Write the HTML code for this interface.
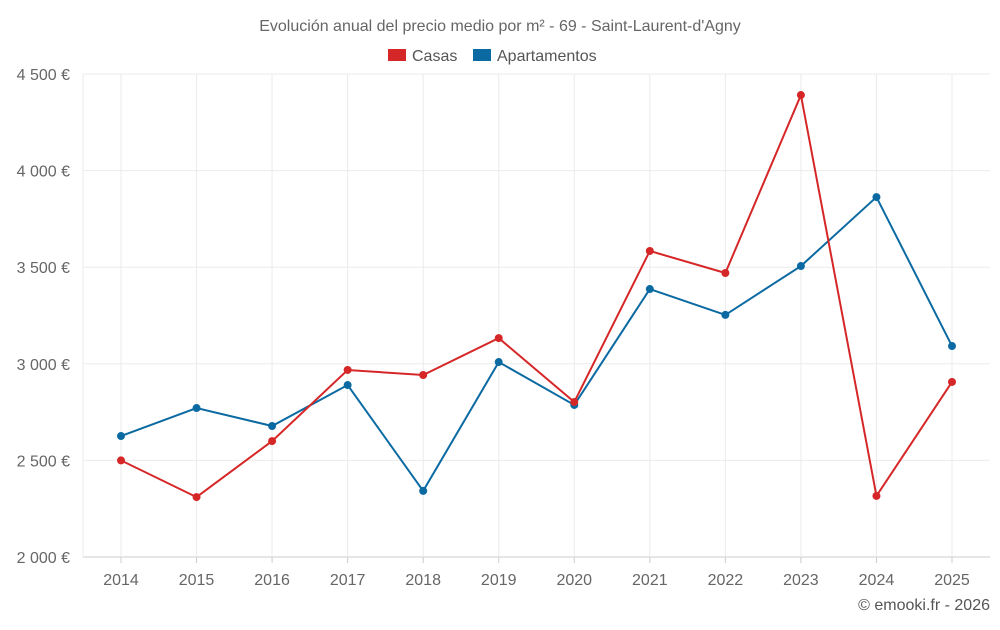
<!DOCTYPE html>
<html><head><meta charset="utf-8"><style>
body{margin:0;background:#fff;font-family:"Liberation Sans",sans-serif;}
svg text{font-family:"Liberation Sans",sans-serif;}
</style></head><body>
<svg id="chart" width="1000" height="625">
<text x="500" y="31" text-anchor="middle" font-size="16" fill="#666">Evolución anual del precio medio por m² - 69 - Saint-Laurent-d'Agny</text>
<g>
<g><rect x="388" y="49" width="18" height="12" fill="#d62728"/><text x="412" y="61" font-size="16" fill="#555">Casas</text></g>
<g><rect x="473" y="49" width="18" height="12" fill="#0b6aa2"/><text x="497" y="61" font-size="16" fill="#555">Apartamentos</text></g>
</g>
<g id="grid"></g><g id="axes"></g><g id="series"></g>
<text x="990" y="610" text-anchor="end" font-size="16" fill="#555">© emooki.fr - 2026</text>
</svg>
<script>
const years=[2014,2015,2016,2017,2018,2019,2020,2021,2022,2023,2024,2025];
const casas=[2500,2310,2600,2968,2942,3133,2802,3584,3470,4391,2316,2906];
const apartamentos=[2626,2771,2678,2890,2342,3009,2787,3387,3253,3506,3863,3092];
const yTicks=[2000,2500,3000,3500,4000,4500];
const yTickLabels=["2 000 €","2 500 €","3 000 €","3 500 €","4 000 €","4 500 €"];
const NS="http://www.w3.org/2000/svg";
const L=83,R=990,T=74,B=557;
const x=i=>121+i*(952-121)/(years.length-1);
const y=v=>B-(v-2000)/(4500-2000)*(B-T);
function mk(tag,attrs,parent){const e=document.createElementNS(NS,tag);for(const k in attrs)e.setAttribute(k,attrs[k]);parent.appendChild(e);return e;}
const grid=document.getElementById('grid'),axes=document.getElementById('axes'),ser=document.getElementById('series');
yTicks.forEach((v,i)=>{
 const g=mk('line',{x1:L,x2:R,y1:y(v),y2:y(v),stroke:i==0?'#ccc':'#ebebeb'},grid);
 
 
 const t=mk('text',{x:70,y:y(v)+6,'text-anchor':'end','font-size':16,fill:'#666'},axes);
 t.textContent=yTickLabels[i];
 
 
});
const lv=mk('line',{x1:L,x2:L,y1:T,y2:B,stroke:'#ebebeb'},grid);


years.forEach((yr,i)=>{
 const g=mk('line',{x1:x(i),x2:x(i),y1:T,y2:B,stroke:'#ebebeb'},grid);
 
 
 const tk=mk('line',{x1:x(i),x2:x(i),y1:B,y2:B+6,stroke:'#ccc'},axes);
 
 
 const t=mk('text',{x:x(i),y:585,'text-anchor':'middle','font-size':16,fill:'#666'},axes);
 t.textContent=yr;
 
 
});
function draw(vals,color,name){
 const p=mk('polyline',{points:vals.map((v,i)=>x(i)+','+y(v)).join(' '),fill:'none',stroke:color,'stroke-width':2},ser);
 
 
 vals.forEach((v,i)=>{
  const c=mk('circle',{cx:x(i),cy:y(v),r:4,fill:color},ser);
  
  
 });
}
draw(apartamentos,'#0b6aa2','apartamentos');
draw(casas,'#d62728','casas');
</script>
</body></html>
